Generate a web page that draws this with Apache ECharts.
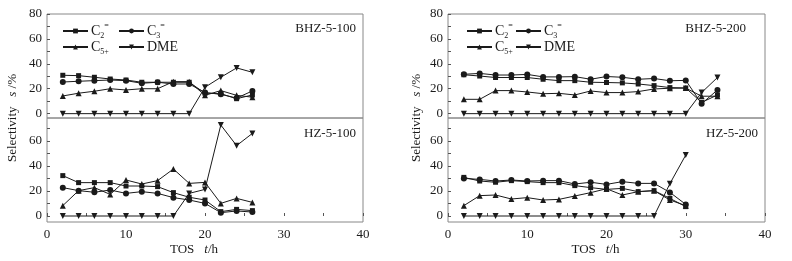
<!DOCTYPE html>
<html>
<head>
<meta charset="utf-8">
<script src="https://cdn.jsdelivr.net/npm/echarts@6/dist/echarts.min.js"></script>
<style>
  html, body { margin: 0; padding: 0; background: #fff; }
  #chart { width: 792px; height: 261px; }
</style>
</head>
<body>
<div id="chart"></div>
<script>
// TOS t/h
const tosA = [2, 4, 6, 8, 10, 12, 14, 16, 18, 20, 22, 24, 26];
const tosB = [2, 4, 6, 8, 10, 12, 14, 16, 18, 20, 22, 24, 26, 28, 30, 32, 34];
const tosC = [2, 4, 6, 8, 10, 12, 14, 16, 18, 20, 22, 24, 26, 28, 30];

// BHZ-5-100
const bhz100C2 = [30.8, 30.5, 29.2, 27.8, 27, 25.2, 25.2, 25.2, 25.2, 16.4, 16, 12, 15];
const bhz100C3 = [25.4, 26, 26.5, 27, 26.5, 24.4, 25.2, 23.8, 23.8, 17, 15.5, 12.5, 18.2];
const bhz100C5 = [14.2, 16.4, 18, 20, 19, 20, 20, 25.7, 25.7, 14.7, 18.5, 14.7, 13.2];
const bhz100DME = [0, 0, 0, 0, 0, 0, 0, 0, 0, 21.2, 29.2, 36.7, 33.2];

// HZ-5-100
const hz100C2 = [32.3, 26.7, 26.7, 26.7, 24, 24, 23.5, 18.7, 15, 12.8, 3.5, 5.3, 4.3];
const hz100C3 = [22.7, 20.3, 19, 20.8, 18.1, 19.5, 18.1, 14.7, 12.8, 10.1, 2.7, 4, 3.2];
const hz100C5 = [8.3, 20.3, 22.7, 17.3, 28.8, 25.6, 28.3, 37.6, 26.1, 26.9, 10.1, 14.1, 10.9];
const hz100DME = [0, 0, 0, 0, 0, 0, 0, 0, 18.1, 21.3, 72.8, 56.3, 66.1];

// BHZ-5-200
const bhz200C2 = [31.2, 30.2, 29, 29, 29, 27.6, 26.5, 26.5, 25.2, 25, 24.7, 23.8, 22.5, 20.9, 20.6, 9, 15];
const bhz200C3 = [31.6, 32.3, 31, 31, 31.5, 29.5, 29.5, 29.7, 27.6, 29.8, 29.2, 27.6, 28.2, 26.4, 26.7, 8, 19];
const bhz200C5 = [11.5, 11.5, 18.5, 18.5, 17.4, 16, 16.3, 15, 18.2, 16.9, 16.9, 17.7, 19.8, 20.4, 20.5, 14, 14];
const bhz200DME = [0, 0, 0, 0, 0, 0, 0, 0, 0, 0, 0, 0, 0, 0, 0, 16.9, 29];

// HZ-5-200
const hz200C2 = [30.9, 28, 27, 28.3, 27.5, 26.7, 26.7, 24.3, 22.7, 21.3, 22.1, 19.5, 20.3, 14.1, 7.5];
const hz200C3 = [30.1, 29.3, 28, 28.8, 28, 28.3, 28.3, 25.6, 27, 25.3, 27.5, 26.1, 26.1, 18.9, 9.3];
const hz200C5 = [8.3, 16.3, 16.8, 13.6, 14.7, 12.8, 13.3, 16, 18.7, 21.8, 16.8, 19.5, 20.3, 12.8, 8.3];
const hz200DME = [0, 0, 0, 0, 0, 0, 0, 0, 0, 0, 0, 0, 0, 25.9, 48.8];

const names = ['C2', 'C3', 'C5+', 'DME'];
const symbols = ['rect', 'circle', 'triangle', 'triangle'];
const rotates = [0, 0, 0, 180];

const panels = [
  {tos: tosA, data: [bhz100C2, bhz100C3, bhz100C5, bhz100DME]},
  {tos: tosA, data: [hz100C2, hz100C3, hz100C5, hz100DME]},
  {tos: tosB, data: [bhz200C2, bhz200C3, bhz200C5, bhz200DME]},
  {tos: tosC, data: [hz200C2, hz200C3, hz200C5, hz200DME]}
];

const font = 'Liberation Serif';
const ink = '#1a1a1a';

const grids = [
  {left: 47, top: 14, width: 316, height: 104},
  {left: 47, top: 118, width: 316, height: 104},
  {left: 448, top: 14, width: 317, height: 104},
  {left: 448, top: 118, width: 317, height: 104}
].map((g) => {
  return Object.assign({show: true, borderColor: '#888', borderWidth: 1}, g);
});

const xAxes = grids.map((g, i) => {
  const bottom = i % 2 === 1;
  return {
    type: 'value', gridIndex: i, min: 0, max: 40, interval: 5,
    splitLine: {show: false},
    axisLine: {show: false},
    axisTick: {show: bottom, inside: true, length: 3, lineStyle: {color: '#555'}},
    axisLabel: {
      show: bottom, color: ink, fontFamily: font, fontSize: 13, margin: 6,
      formatter: (v) => (v % 10 === 0 ? v : '')
    },
    name: bottom ? '{a|TOS}   {i|t}{a|/h}' : '',
    nameLocation: 'middle', nameGap: 21,
    nameTextStyle: {
      padding: [0, 22, 0, 0],
      rich: {
        a: {fontFamily: font, fontSize: 13, color: ink},
        i: {fontFamily: font, fontSize: 13, color: ink, fontStyle: 'italic'}
      }
    }
  };
});

const yAxes = grids.map((g, i) => {
  const bottom = i % 2 === 1;
  return {
    type: 'value', gridIndex: i,
    min: bottom ? -4.8 : -3.5, max: bottom ? 78.4 : 80,
    splitLine: {show: false},
    axisLine: {show: false},
    axisTick: {
      show: true, inside: true, length: 3, lineStyle: {color: '#555'},
      customValues: bottom ? [0, 10, 20, 30, 40, 50, 60, 70] : [0, 10, 20, 30, 40, 50, 60, 70, 80]
    },
    axisLabel: {
      color: ink, fontFamily: font, fontSize: 13, margin: 5,
      customValues: bottom ? [0, 20, 40, 60] : [0, 20, 40, 60, 80]
    }
  };
});

const series = [];
panels.forEach((p, i) => {
  p.data.forEach((vals, k) => {
    series.push({
      name: names[k],
      type: 'line',
      xAxisIndex: i, yAxisIndex: i,
      data: p.tos.map((t, j) => [t, vals[j]]),
      symbol: symbols[k],
      symbolRotate: rotates[k],
      symbolSize: k === 0 ? 5 : 6,
      showAllSymbol: true,
      lineStyle: {color: ink, width: 1},
      itemStyle: {color: ink},
      animation: false
    });
  });
});

const legendText = {
  'C2': '{c|C}{b|2}{t|=}',
  'C3': '{c|C}{b|3}{t|=}',
  'C5+': '{c|C}{b|5+}',
  'DME': '{c|DME}'
};
const legendRich = {
  c: {fontFamily: font, fontSize: 14, color: ink, lineHeight: 18, verticalAlign: 'middle'},
  b: {fontFamily: font, fontSize: 8, color: ink, lineHeight: 18, verticalAlign: 'bottom'},
  t: {fontFamily: font, fontSize: 8, color: ink, lineHeight: 18, verticalAlign: 'top'}
};

// legend item positions: [left, top] for each name, per column of panels
const legendPos = [
  [[62, 22], [118, 22], [62, 40], [118, 40]],
  [[466, 22], [515, 22], [466, 40], [515, 40]]
];
const legends = [];
legendPos.forEach((col) => {
  col.forEach((pos, k) => {
    legends.push({
      data: [names[k]],
      left: pos[0], top: pos[1],
      itemWidth: 25, itemHeight: 6, padding: 0,
      selectedMode: false,
      formatter: (n) => legendText[n],
      textStyle: {rich: legendRich, padding: [0, 0, 0, -2]}
    });
  });
});

const labels = [
  {x: 356, y: 29, t: 'BHZ-5-100'},
  {x: 356, y: 134, t: 'HZ-5-100'},
  {x: 746, y: 29, t: 'BHZ-5-200'},
  {x: 758, y: 134, t: 'HZ-5-200'}
];
const graphic = labels.map((l) => {
  return {
    type: 'text', x: l.x, y: l.y,
    style: {text: l.t, fill: ink, font: '13px "Liberation Serif"', textAlign: 'right', textVerticalAlign: 'middle'}
  };
});
[13, 417].forEach((x) => {
  graphic.push({
    type: 'text', x: x, y: 118, rotation: Math.PI / 2,
    style: {
      text: 'Selectivity   {i|s} /%',
      fill: ink, font: '13px "Liberation Serif"',
      textAlign: 'center', textVerticalAlign: 'middle',
      rich: {i: {fontFamily: font, fontSize: 13, fontStyle: 'italic', fill: ink}}
    }
  });
});

const myChart = echarts.init(document.getElementById('chart'));
myChart.setOption({
  animation: false,
  grid: grids,
  xAxis: xAxes,
  yAxis: yAxes,
  legend: legends,
  graphic: graphic,
  series: series
});
</script>
</body>
</html>
